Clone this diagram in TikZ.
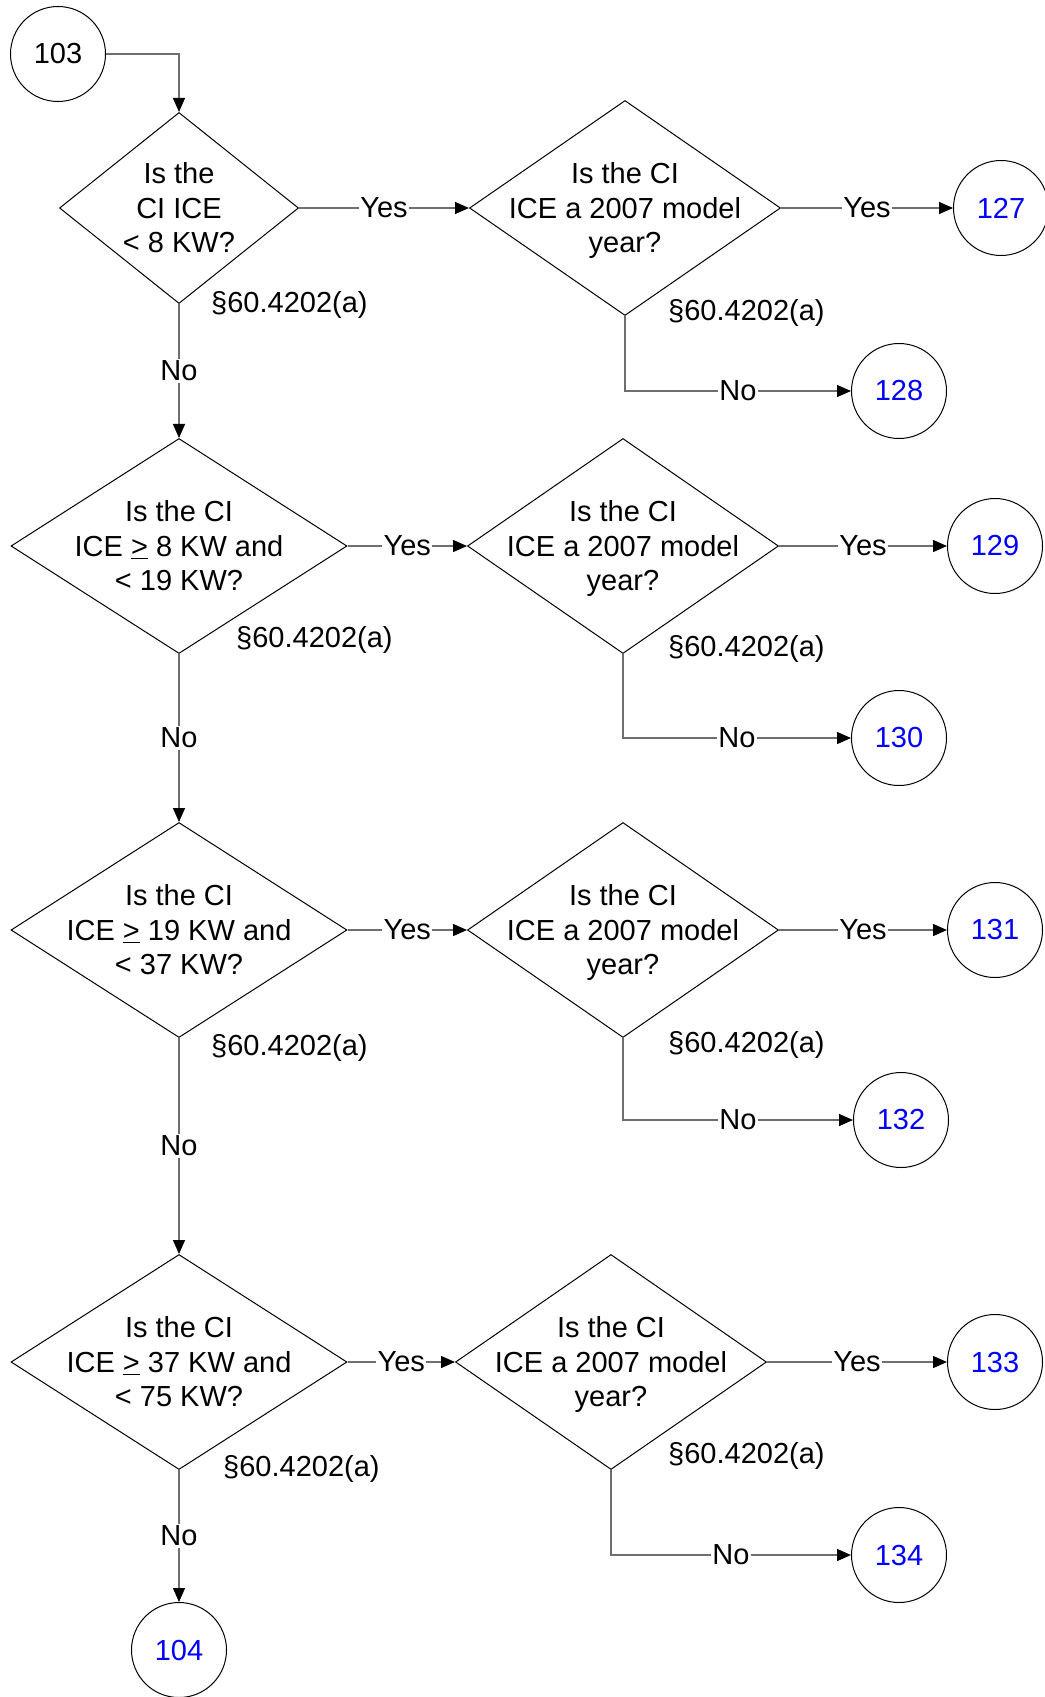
\documentclass[tikz,border=0pt]{standalone}
\usepackage{fontspec}
\setmainfont{Liberation Sans}
\usetikzlibrary{arrows.meta,shapes.geometric,positioning}
\definecolor{INK}{HTML}{000000}
\definecolor{WIRE}{HTML}{6E6E6E}
\definecolor{LINK}{HTML}{0000FF}

\begin{document}
\begin{tikzpicture}[
    x=1pt, y=-1pt,
    font=\fontsize{29}{34.6}\selectfont,
    dia/.style={diamond, draw=INK, line width=1pt, inner sep=0pt, minimum width=336pt, minimum height=215pt},
    smalldia/.style={dia, minimum width=239pt, minimum height=191pt},
    yeardia/.style={dia, minimum width=311pt},
    qtxt/.style={align=center, inner sep=0pt, text=INK},
    ytxt/.style={qtxt, yshift=-2.5pt},
    term/.style={circle, draw=INK, line width=1pt, minimum size=95pt, inner sep=0pt, text=INK},
    goto/.style={term, text=LINK},
    arr/.style={-{Triangle[length=14pt, width=12pt, color=INK]}, WIRE, line width=1.3pt},
    lbl/.style={fill=white, inner sep=1.5pt, text=INK},
    ref/.style={anchor=west, inner sep=0pt, text=INK},
  ]
  \useasboundingbox (0,0) rectangle (1044,1697);

  % ===== row 1: < 8 KW =====
  \node[term] (c103) at (58,54) {103};
  \node[smalldia] (q1) at (179,208) {};
  \node[qtxt] at (q1) {Is the\\CI ICE\\< 8 KW?};
  \node[yeardia] (m1) at (625,208) {};
  \node[ytxt] at (m1) {Is the CI\\ICE a 2007 model\\year?};
  \node[goto] (c127) at (1001,208) {127};
  \node[goto] (c128) at (899,391) {128};
  \node[ref] at (211,305) {§60.4202(a)};
  \node[ref] at (668,313) {§60.4202(a)};
  \draw[arr] (c103) -| (q1);
  \draw[arr] (q1) -- node[lbl] {Yes} (m1);
  \draw[arr] (m1) -- node[lbl] {Yes} (c127);
  \draw[arr] (m1) |- node[lbl, pos=0.75] {No} (c128);

  % ===== row 2: 8 to 19 KW =====
  \node[dia] (q2) at (179,546) {};
  \node[qtxt] at (q2) {Is the CI\\ICE \underline{>} 8 KW and\\< 19 KW?};
  \node[yeardia] (m2) at (623,546) {};
  \node[ytxt] at (m2) {Is the CI\\ICE a 2007 model\\year?};
  \node[goto] (c129) at (995,546) {129};
  \node[goto] (c130) at (899,738) {130};
  \node[ref] at (236,640) {§60.4202(a)};
  \node[ref] at (668,649) {§60.4202(a)};
  \draw[arr] (q1) -- node[lbl] {No} (q2);
  \draw[arr] (q2) -- node[lbl] {Yes} (m2);
  \draw[arr] (m2) -- node[lbl] {Yes} (c129);
  \draw[arr] (m2) |- node[lbl, pos=0.75] {No} (c130);

  % ===== row 3: 19 to 37 KW =====
  \node[dia] (q3) at (179,930) {};
  \node[qtxt] at (q3) {Is the CI\\ICE \underline{>} 19 KW and\\< 37 KW?};
  \node[yeardia] (m3) at (623,930) {};
  \node[ytxt] at (m3) {Is the CI\\ICE a 2007 model\\year?};
  \node[goto] (c131) at (995,930) {131};
  \node[goto] (c132) at (901,1120) {132};
  \node[ref] at (211,1048) {§60.4202(a)};
  \node[ref] at (668,1045) {§60.4202(a)};
  \draw[arr] (q2) -- node[lbl] {No} (q3);
  \draw[arr] (q3) -- node[lbl] {Yes} (m3);
  \draw[arr] (m3) -- node[lbl] {Yes} (c131);
  \draw[arr] (m3) |- node[lbl, pos=0.75] {No} (c132);

  % ===== row 4: 37 to 75 KW =====
  \node[dia] (q4) at (179,1362) {};
  \node[qtxt] at (q4) {Is the CI\\ICE \underline{>} 37 KW and\\< 75 KW?};
  \node[yeardia] (m4) at (611,1362) {};
  \node[ytxt] at (m4) {Is the CI\\ICE a 2007 model\\year?};
  \node[goto] (c133) at (995,1362) {133};
  \node[goto] (c134) at (899,1555) {134};
  \node[goto] (c104) at (179,1650) {104};
  \node[ref] at (223,1469) {§60.4202(a)};
  \node[ref] at (668,1456) {§60.4202(a)};
  \draw[arr] (q3) -- node[lbl] {No} (q4);
  \draw[arr] (q4) -- node[lbl] {Yes} (m4);
  \draw[arr] (m4) -- node[lbl] {Yes} (c133);
  \draw[arr] (m4) |- node[lbl, pos=0.75] {No} (c134);
  \draw[arr] (q4) -- node[lbl] {No} (c104);

\end{tikzpicture}
\end{document}
